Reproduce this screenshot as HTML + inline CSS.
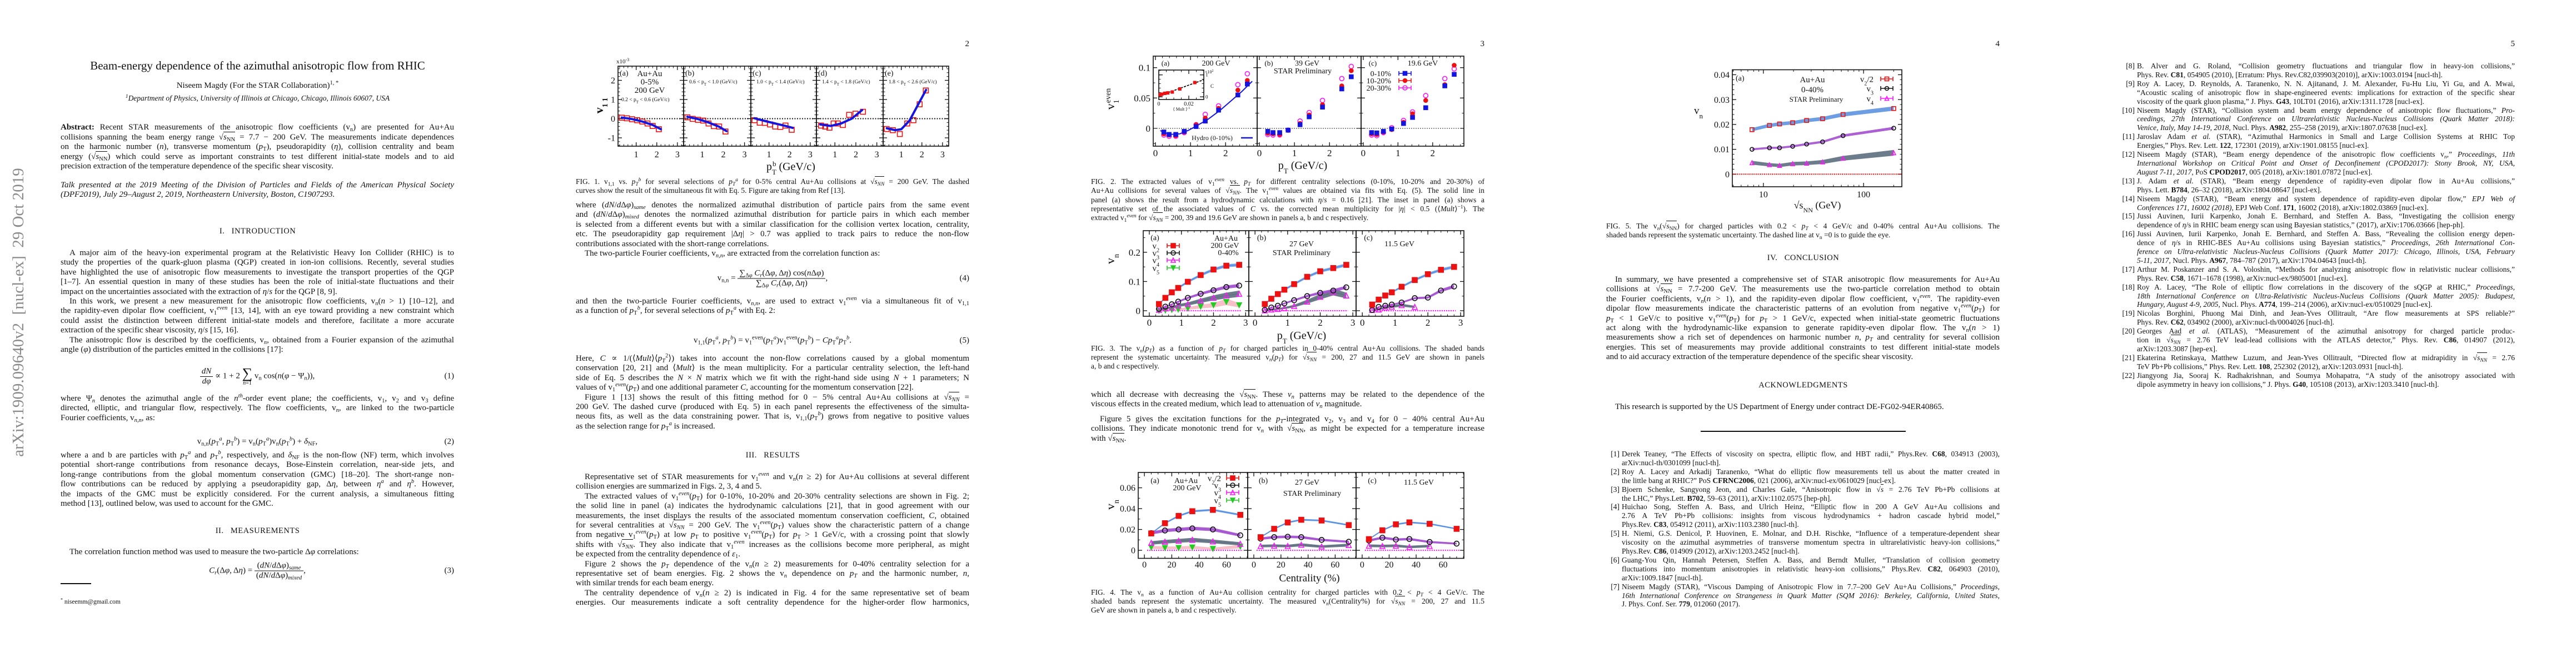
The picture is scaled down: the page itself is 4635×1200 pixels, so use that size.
<!DOCTYPE html>
<html><head><meta charset="utf-8">
<style>
html,body{margin:0;padding:0;background:#fff}
body{width:4635px;height:1200px;overflow:hidden;position:relative;font-family:"Liberation Serif","DejaVu Serif",serif;color:#111}
.page{position:absolute;top:0;width:927px;height:1200px;overflow:hidden}
.page svg{position:absolute;left:0;top:0}
.blk{position:absolute;left:109px;width:708px;font-size:15px}
.cap{font-size:13.5px}
.ref{left:137px;width:680px;font-size:13.5px}
.l{white-space:nowrap;position:relative}
.i{padding-left:16px}
.rn{position:absolute;left:-32px;width:28px;text-align:right}
sub,sup{font-size:0.7em;line-height:0}
sub{vertical-align:-0.3em}sup{vertical-align:0.55em}
.ov{border-top:1px solid #111;padding-top:1px}
.ctr{position:absolute;left:0;width:927px;text-align:center}
.pn{position:absolute;left:790px;width:27px;text-align:right;font-size:15px;top:71px}
.eq{position:absolute;left:109px;width:708px;text-align:center;font-size:15px;transform:translateY(-50%)}
.eqn{position:absolute;left:740px;width:77px;text-align:right;font-size:15px;transform:translateY(-50%)}
.frac{display:inline-block;vertical-align:middle;text-align:center}
.frac>span{display:block;padding:0 3px}
.frac>span:first-child{border-bottom:1px solid #111}
.sum{display:inline-block;vertical-align:middle;text-align:center;line-height:1}
.sum big{font-size:26px;display:block}
.sum small{font-size:10px;display:block}
.h{font-size:14.5px;letter-spacing:0.5px}
</style></head>
<body>

<div style="position:absolute;left:-237px;top:545px;width:540px;height:34px;transform:rotate(-90deg);font-size:29px;color:#8a8a8a;text-align:center;white-space:nowrap;line-height:34px">arXiv:1909.09640v2&nbsp; [nucl-ex]&nbsp; 29 Oct 2019</div>

<!-- ================= PAGE 1 ================= -->
<div class="page" style="left:0">
<div class="ctr" style="top:106px;font-size:21px">Beam-energy dependence of the azimuthal anisotropic flow from RHIC</div>
<div class="ctr" style="top:146px;font-size:15px">Niseem Magdy (For the STAR Collaboration)<sup>1, *</sup></div>
<div class="ctr" style="top:169px;font-size:13.5px;font-style:italic"><sup>1</sup>Department of Physics, University of Illinois at Chicago, Chicago, Illinois 60607, USA</div>

<div class="blk" style="top:221px;line-height:17.5px">
<div class="l"><b>Abstract:</b> Recent STAR measurements of the anisotropic flow coefficients (v<sub>n</sub>) are presented for Au+Au</div>
<div class="l">collisions spanning the beam energy range √<span class="ov"><i>s</i><sub>NN</sub></span> = 7.7 − 200 GeV. The measurements indicate dependences</div>
<div class="l">on the harmonic number (<i>n</i>), transverse momentum (<i>p</i><sub>T</sub>), pseudorapidity (<i>η</i>), collision centrality and beam</div>
<div class="l">energy (√<span class="ov"><i>s</i><sub>NN</sub></span>) which could serve as important constraints to test different initial-state models and to aid</div>
<div class="l last">precision extraction of the temperature dependence of the specific shear viscosity.</div>
</div>
<div class="blk" style="top:325px;line-height:17.4px;font-style:italic">
<div class="l">Talk presented at the 2019 Meeting of the Division of Particles and Fields of the American Physical Society</div>
<div class="l last">(DPF2019), July 29–August 2, 2019, Northeastern University, Boston, C1907293.</div>
</div>
<div class="ctr h" style="top:408px">I.&nbsp;&nbsp; INTRODUCTION</div>
<div class="blk" style="top:447px;line-height:17.4px">
<div class="l i">A major aim of the heavy-ion experimental program at the Relativistic Heavy Ion Collider (RHIC) is to</div>
<div class="l">study the properties of the quark-gluon plasma (QGP) created in ion-ion collisions. Recently, several studies</div>
<div class="l">have highlighted the use of anisotropic flow measurements to investigate the transport properties of the QGP</div>
<div class="l">[1–7]. An essential question in many of these studies has been the role of initial-state fluctuations and their</div>
<div class="l last">impact on the uncertainties associated with the extraction of <i>η</i>/<i>s</i> for the QGP [8, 9].</div>
<div class="l i">In this work, we present a new measurement for the anisotropic flow coefficients, v<sub><i>n</i></sub>(<i>n</i> &gt; 1) [10–12], and</div>
<div class="l">the rapidity-even dipolar flow coefficient, v<sub>1</sub><sup><i>even</i></sup> [13, 14], with an eye toward providing a new constraint which</div>
<div class="l">could assist the distinction between different initial-state models and therefore, facilitate a more accurate</div>
<div class="l last">extraction of the specific shear viscosity, <i>η</i>/<i>s</i> [15, 16].</div>
<div class="l i">The anisotropic flow is described by the coefficients, v<sub><i>n</i></sub>, obtained from a Fourier expansion of the azimuthal</div>
<div class="l last">angle (<i>φ</i>) distribution of the particles emitted in the collisions [17]:</div>
</div>
<div class="eq" style="top:677px"><span class="frac"><span><i>dN</i></span><span><i>dφ</i></span></span> ∝ 1 + 2 <span class="sum"><big>∑</big><small><i>n</i>=1</small></span> v<sub>n</sub> cos(<i>n</i>(<i>φ</i> − Ψ<sub><i>n</i></sub>)),</div>
<div class="eqn" style="top:677px">(1)</div>
<div class="blk" style="top:709px;line-height:17.4px">
<div class="l">where Ψ<sub><i>n</i></sub> denotes the azimuthal angle of the <i>n</i><sup><i>th</i></sup>-order event plane; the coefficients, v<sub>1</sub>, v<sub>2</sub> and v<sub>3</sub> define</div>
<div class="l">directed, elliptic, and triangular flow, respectively. The flow coefficients, v<sub><i>n</i></sub>, are linked to the two-particle</div>
<div class="l last">Fourier coefficients, v<sub><i>n,n</i></sub>, as:</div>
</div>
<div class="eq" style="top:795px">v<sub>n,n</sub>(<i>p</i><sub>T</sub><sup><i>a</i></sup>, <i>p</i><sub>T</sub><sup><i>b</i></sup>) = v<sub>n</sub>(<i>p</i><sub>T</sub><sup><i>a</i></sup>)v<sub>n</sub>(<i>p</i><sub>T</sub><sup><i>b</i></sup>) + <i>δ</i><sub>NF</sub>,</div>
<div class="eqn" style="top:795px">(2)</div>
<div class="blk" style="top:811px;line-height:17.4px">
<div class="l">where a and b are particles with <i>p</i><sub>T</sub><sup><i>a</i></sup> and <i>p</i><sub>T</sub><sup><i>b</i></sup>, respectively, and <i>δ</i><sub>NF</sub> is the non-flow (NF) term, which involves</div>
<div class="l">potential short-range contributions from resonance decays, Bose-Einstein correlation, near-side jets, and</div>
<div class="l">long-range contributions from the global momentum conservation (GMC) [18–20]. The short-range non-</div>
<div class="l">flow contributions can be reduced by applying a pseudorapidity gap, Δ<i>η</i>, between <i>η</i><sup><i>a</i></sup> and <i>η</i><sup><i>b</i></sup>. However,</div>
<div class="l">the impacts of the GMC must be explicitly considered. For the current analysis, a simultaneous fitting</div>
<div class="l last">method [13], outlined below, was used to account for the GMC.</div>
</div>
<div class="ctr h" style="top:947px">II.&nbsp;&nbsp; MEASUREMENTS</div>
<div class="blk" style="top:985px;line-height:17.4px">
<div class="l i last">The correlation function method was used to measure the two-particle Δ<i>φ</i> correlations:</div>
</div>
<div class="eq" style="top:1027px"><i>C<sub>r</sub></i>(Δ<i>φ</i>, Δ<i>η</i>) = <span class="frac"><span>(<i>dN</i>/<i>d</i>Δ<i>φ</i>)<sub><i>same</i></sub></span><span>(<i>dN</i>/<i>d</i>Δ<i>φ</i>)<sub><i>mixed</i></sub></span></span>,</div>
<div class="eqn" style="top:1027px">(3)</div>
<div style="position:absolute;left:109px;top:1049px;width:55px;height:1.5px;background:#111"></div>
<div style="position:absolute;left:109px;top:1077px;font-size:11.5px"><sup>*</sup> niseemm@gmail.com</div>
</div>

<!-- ================= PAGE 2 ================= -->
<div class="page" style="left:927px">
<svg id="svg2" width="927" height="1200"></svg>
<div class="pn">2</div>
<div class="blk cap" style="top:319px;line-height:16px">
<div class="l">FIG. 1. v<sub>1,1</sub> vs. <i>p</i><sub><i>T</i></sub><sup><i>b</i></sup> for several selections of <i>p</i><sub><i>T</i></sub><sup><i>a</i></sup> for 0-5% central Au+Au collisions at √<span class="ov"><i>s</i><sub><i>NN</i></sub></span> = 200 GeV. The dashed</div>
<div class="l last">curves show the result of the simultaneous fit with Eq. 5. Figure are taking from Ref [13].</div>
</div>
<div class="blk" style="top:361px;line-height:17.4px">
<div class="l">where (<i>dN</i>/<i>d</i>Δ<i>φ</i>)<sub><i>same</i></sub> denotes the normalized azimuthal distribution of particle pairs from the same event</div>
<div class="l">and (<i>dN</i>/<i>d</i>Δ<i>φ</i>)<sub><i>mixed</i></sub> denotes the normalized azimuthal distribution for particle pairs in which each member</div>
<div class="l">is selected from a different events but with a similar classification for the collision vertex location, centrality,</div>
<div class="l">etc. The pseudorapidity gap requirement |Δ<i>η</i>| &gt; 0.7 was applied to track pairs to reduce the non-flow</div>
<div class="l last">contributions associated with the short-range correlations.</div>
<div class="l i last">The two-particle Fourier coefficients, v<sub><i>n,n</i></sub>, are extracted from the correlation function as:</div>
</div>
<div class="eq" style="top:501px">v<sub>n,n</sub> = <span class="frac"><span>∑<sub>Δ<i>φ</i></sub> <i>C<sub>r</sub></i>(Δ<i>φ</i>, Δ<i>η</i>) cos(<i>n</i>Δ<i>φ</i>)</span><span>∑<sub>Δ<i>φ</i></sub> <i>C<sub>r</sub></i>(Δ<i>φ</i>, Δ<i>η</i>)</span></span>,</div>
<div class="eqn" style="top:501px">(4)</div>
<div class="blk" style="top:534px;line-height:17.4px">
<div class="l">and then the two-particle Fourier coefficients, v<sub><i>n,n</i></sub>, are used to extract v<sub>1</sub><sup><i>even</i></sup> via a simultaneous fit of v<sub>1,1</sub></div>
<div class="l last">as a function of <i>p</i><sub>T</sub><sup><i>b</i></sup>, for several selections of <i>p</i><sub>T</sub><sup><i>a</i></sup> with Eq. 2:</div>
</div>
<div class="eq" style="top:613px">v<sub>1,1</sub>(<i>p</i><sub>T</sub><sup><i>a</i></sup>, <i>p</i><sub>T</sub><sup><i>b</i></sup>) = v<sub>1</sub><sup>even</sup>(<i>p</i><sub>T</sub><sup><i>a</i></sup>)v<sub>1</sub><sup>even</sup>(<i>p</i><sub>T</sub><sup><i>b</i></sup>) − <i>Cp</i><sub>T</sub><sup><i>a</i></sup><i>p</i><sub>T</sub><sup><i>b</i></sup>.</div>
<div class="eqn" style="top:613px">(5)</div>
<div class="blk" style="top:637px;line-height:17.4px">
<div class="l">Here, <i>C</i> ∝ 1/(⟨<i>Mult</i>⟩⟨<i>p</i><sub><i>T</i></sub><sup>2</sup>⟩) takes into account the non-flow correlations caused by a global momentum</div>
<div class="l">conservation [20, 21] and ⟨<i>Mult</i>⟩ is the mean multiplicity. For a particular centrality selection, the left-hand</div>
<div class="l">side of Eq. 5 describes the <i>N</i> × <i>N</i> matrix which we fit with the right-hand side using <i>N</i> + 1 parameters; N</div>
<div class="l last">values of v<sub>1</sub><sup><i>even</i></sup>(<i>p</i><sub>T</sub>) and one additional parameter <i>C</i>, accounting for the momentum conservation [22].</div>
<div class="l i">Figure 1 [13] shows the result of this fitting method for 0 − 5% central Au+Au collisions at √<span class="ov"><i>s</i><sub><i>NN</i></sub></span> =</div>
<div class="l">200 GeV. The dashed curve (produced with Eq. 5) in each panel represents the effectiveness of the simulta-</div>
<div class="l">neous fits, as well as the data constraining power. That is, v<sub>1,1</sub>(<i>p</i><sub>T</sub><sup><i>b</i></sup>) grows from negative to positive values</div>
<div class="l last">as the selection range for <i>p</i><sub>T</sub><sup><i>a</i></sup> is increased.</div>
</div>
<div class="ctr h" style="top:811px">III.&nbsp;&nbsp; RESULTS</div>
<div class="blk" style="top:850px;line-height:17.4px">
<div class="l i">Representative set of STAR measurements for v<sub>1</sub><sup><i>even</i></sup> and v<sub><i>n</i></sub>(<i>n</i> ≥ 2) for Au+Au collisions at several different</div>
<div class="l last">collision energies are summarized in Figs. 2, 3, 4 and 5.</div>
<div class="l i">The extracted values of v<sub>1</sub><sup><i>even</i></sup>(<i>p</i><sub>T</sub>) for 0-10%, 10-20% and 20-30% centrality selections are shown in Fig. 2;</div>
<div class="l">the solid line in panel (a) indicates the hydrodynamic calculations [21], that in good agreement with our</div>
<div class="l">measurements, the inset displays the results of the associated momentum conservation coefficient, <i>C</i>, obtained</div>
<div class="l">for several centralities at √<span class="ov"><i>s</i><sub><i>NN</i></sub></span> = 200 GeV. The v<sub>1</sub><sup><i>even</i></sup>(<i>p</i><sub>T</sub>) values show the characteristic pattern of a change</div>
<div class="l">from negative v<sub>1</sub><sup><i>even</i></sup>(<i>p</i><sub>T</sub>) at low <i>p</i><sub>T</sub> to positive v<sub>1</sub><sup><i>even</i></sup>(<i>p</i><sub>T</sub>) for <i>p</i><sub>T</sub> &gt; 1 GeV/c, with a crossing point that slowly</div>
<div class="l">shifts with √<span class="ov"><i>s</i><sub><i>NN</i></sub></span>. They also indicate that v<sub>1</sub><sup><i>even</i></sup> increases as the collisions become more peripheral, as might</div>
<div class="l last">be expected from the centrality dependence of <i>ε</i><sub>1</sub>.</div>
<div class="l i">Figure 2 shows the <i>p<sub>T</sub></i> dependence of the v<sub><i>n</i></sub>(<i>n</i> ≥ 2) measurements for 0-40% centrality selection for a</div>
<div class="l">representative set of beam energies. Fig. 2 shows the v<sub><i>n</i></sub> dependence on <i>p<sub>T</sub></i> and the harmonic number, <i>n</i>,</div>
<div class="l last">with similar trends for each beam energy.</div>
<div class="l i">The centrality dependence of v<sub><i>n</i></sub>(<i>n</i> ≥ 2) is indicated in Fig. 4 for the same representative set of beam</div>
<div class="l">energies. Our measurements indicate a soft centrality dependence for the higher-order flow harmonics,</div>
</div>
</div>

<!-- ================= PAGE 3 ================= -->
<div class="page" style="left:1854px">
<svg id="svg3" width="927" height="1200"></svg>
<div class="pn">3</div>
<div class="blk cap" style="top:319px;line-height:16.3px">
<div class="l">FIG. 2. The extracted values of v<sub>1</sub><sup><i>even</i></sup> vs. <i>p<sub>T</sub></i> for different centrality selections (0-10%, 10-20% and 20-30%) of</div>
<div class="l">Au+Au collisions for several values of √<span class="ov"><i>s</i><sub><i>NN</i></sub></span>. The v<sub>1</sub><sup><i>even</i></sup> values are obtained via fits with Eq. (5). The solid line in</div>
<div class="l">panel (a) shows the result from a hydrodynamic calculations with <i>η</i>/<i>s</i> = 0.16 [21]. The inset in panel (a) shows a</div>
<div class="l">representative set of the associated values of <i>C</i> vs. the corrected mean multiplicity for |<i>η</i>| &lt; 0.5 (⟨<i>Mult</i>⟩<sup>−1</sup>). The</div>
<div class="l last">extracted v<sub>1</sub><sup><i>even</i></sup> for √<span class="ov"><i>s</i><sub><i>NN</i></sub></span> = 200, 39 and 19.6 GeV are shown in panels a, b and c respectively.</div>
</div>
<div class="blk cap" style="top:619px;line-height:16px">
<div class="l">FIG. 3. The v<sub><i>n</i></sub>(<i>p<sub>T</sub></i>) as a function of <i>p<sub>T</sub></i> for charged particles in 0-40% central Au+Au collisions. The shaded bands</div>
<div class="l">represent the systematic uncertainty. The measured v<sub><i>n</i></sub>(<i>p<sub>T</sub></i>) for √<span class="ov"><i>s</i><sub><i>NN</i></sub></span> = 200, 27 and 11.5 GeV are shown in panels</div>
<div class="l last">a, b and c respectively.</div>
</div>
<div class="blk" style="top:702px;line-height:17.4px">
<div class="l">which all decrease with decreasing the √<span class="ov"><i>s</i><sub>NN</sub></span>. These <i>v<sub>n</sub></i> patterns may be related to the dependence of the</div>
<div class="l last">viscous effects in the created medium, which lead to attenuation of <i>v<sub>n</sub></i> magnitude.</div>
</div>
<div class="blk" style="top:746px;line-height:17.4px">
<div class="l i">Figure 5 gives the excitation functions for the <i>p<sub>T</sub></i>-integrated v<sub>2</sub>, v<sub>3</sub> and v<sub>4</sub> for 0 − 40% central Au+Au</div>
<div class="l">collisions. They indicate monotonic trend for v<sub><i>n</i></sub> with √<span class="ov"><i>s</i><sub>NN</sub></span>, as might be expected for a temperature increase</div>
<div class="l last">with √<span class="ov"><i>s</i><sub>NN</sub></span>.</div>
</div>
<div class="blk cap" style="top:1058px;line-height:16px">
<div class="l">FIG. 4. The v<sub><i>n</i></sub> as a function of Au+Au collision centrality for charged particles with 0.2 &lt; <i>p<sub>T</sub></i> &lt; 4 GeV/c. The</div>
<div class="l">shaded bands represent the systematic uncertainty. The measured v<sub><i>n</i></sub>(Centrality%) for √<span class="ov"><i>s</i><sub><i>NN</i></sub></span> = 200, 27 and 11.5</div>
<div class="l last">GeV are shown in panels a, b and c respectively.</div>
</div>
</div>

<!-- ================= PAGE 4 ================= -->
<div class="page" style="left:2781px">
<svg id="svg4" width="927" height="1200"></svg>
<div class="pn">4</div>
<div class="blk cap" style="top:399px;line-height:16px">
<div class="l">FIG. 5. The v<sub><i>n</i></sub>(√<span class="ov"><i>s</i><sub>NN</sub></span>) for charged particles with 0.2 &lt; <i>p<sub>T</sub></i> &lt; 4 GeV/c and 0-40% central Au+Au collisions. The</div>
<div class="l last">shaded bands represent the systematic uncertainty. The dashed line at v<sub>n</sub> =0 is to guide the eye.</div>
</div>
<div class="ctr h" style="top:456px">IV.&nbsp;&nbsp; CONCLUSION</div>
<div class="blk" style="top:495px;line-height:17.4px">
<div class="l i">In summary, we have presented a comprehensive set of STAR anisotropic flow measurements for Au+Au</div>
<div class="l">collisions at √<span class="ov"><i>s</i><sub>NN</sub></span> = 7.7-200 GeV. The measurements use the two-particle correlation method to obtain</div>
<div class="l">the Fourier coefficients, v<sub><i>n</i></sub>(<i>n</i> &gt; 1), and the rapidity-even dipolar flow coefficient, v<sub>1</sub><sup><i>even</i></sup>. The rapidity-even</div>
<div class="l">dipolar flow measurements indicate the characteristic patterns of an evolution from negative v<sub>1</sub><sup><i>even</i></sup>(<i>p</i><sub>T</sub>) for</div>
<div class="l"><i>p</i><sub>T</sub> &lt; 1 GeV/c to positive v<sub>1</sub><sup><i>even</i></sup>(<i>p</i><sub>T</sub>) for <i>p</i><sub>T</sub> &gt; 1 GeV/c, expected when initial-state geometric fluctuations</div>
<div class="l">act along with the hydrodynamic-like expansion to generate rapidity-even dipolar flow. The v<sub><i>n</i></sub>(<i>n</i> &gt; 1)</div>
<div class="l">measurements show a rich set of dependences on harmonic number <i>n</i>, <i>p<sub>T</sub></i> and centrality for several collision</div>
<div class="l">energies. This set of measurements may provide additional constraints to test different initial-state models</div>
<div class="l last">and to aid accuracy extraction of the temperature dependence of the specific shear viscosity.</div>
</div>
<div class="ctr h" style="top:685px">ACKNOWLEDGMENTS</div>
<div class="blk" style="top:724px;line-height:17.4px">
<div class="l i last">This research is supported by the US Department of Energy under contract DE-FG02-94ER40865.</div>
</div>
<div style="position:absolute;left:279px;top:775px;width:369px;height:2px;background:#111"></div>
<div class="blk ref" style="top:809px;line-height:15.9px">
<div class="l"><span class="rn">[1]</span>Derek Teaney, “The Effects of viscosity on spectra, elliptic flow, and HBT radii,” Phys.Rev. <b>C68</b>, 034913 (2003),</div>
<div class="l last">arXiv:nucl-th/0301099 [nucl-th].</div>
<div class="l"><span class="rn">[2]</span>Roy A. Lacey and Arkadij Taranenko, “What do elliptic flow measurements tell us about the matter created in</div>
<div class="l last">the little bang at RHIC?” PoS <b>CFRNC2006</b>, 021 (2006), arXiv:nucl-ex/0610029 [nucl-ex].</div>
<div class="l"><span class="rn">[3]</span>Bjoern Schenke, Sangyong Jeon, and Charles Gale, “Anisotropic flow in √<span class="ov"><i>s</i></span> = 2.76 TeV Pb+Pb collisions at</div>
<div class="l last">the LHC,” Phys.Lett. <b>B702</b>, 59–63 (2011), arXiv:1102.0575 [hep-ph].</div>
<div class="l"><span class="rn">[4]</span>Huichao Song, Steffen A. Bass, and Ulrich Heinz, “Elliptic flow in 200 A GeV Au+Au collisions and</div>
<div class="l">2.76 A TeV Pb+Pb collisions: insights from viscous hydrodynamics + hadron cascade hybrid model,”</div>
<div class="l last">Phys.Rev. <b>C83</b>, 054912 (2011), arXiv:1103.2380 [nucl-th].</div>
<div class="l"><span class="rn">[5]</span>H. Niemi, G.S. Denicol, P. Huovinen, E. Molnar, and D.H. Rischke, “Influence of a temperature-dependent shear</div>
<div class="l">viscosity on the azimuthal asymmetries of transverse momentum spectra in ultrarelativistic heavy-ion collisions,”</div>
<div class="l last">Phys.Rev. <b>C86</b>, 014909 (2012), arXiv:1203.2452 [nucl-th].</div>
<div class="l"><span class="rn">[6]</span>Guang-You Qin, Hannah Petersen, Steffen A. Bass, and Berndt Muller, “Translation of collision geometry</div>
<div class="l">fluctuations into momentum anisotropies in relativistic heavy-ion collisions,” Phys.Rev. <b>C82</b>, 064903 (2010),</div>
<div class="l last">arXiv:1009.1847 [nucl-th].</div>
<div class="l"><span class="rn">[7]</span>Niseem Magdy (STAR), “Viscous Damping of Anisotropic Flow in 7.7–200 GeV Au+Au Collisions,” <i>Proceedings,</i></div>
<div class="l"><i>16th International Conference on Strangeness in Quark Matter (SQM 2016): Berkeley, California, United States,</i></div>
<div class="l last">J. Phys. Conf. Ser. <b>779</b>, 012060 (2017).</div>
</div>
</div>

<!-- ================= PAGE 5 ================= -->
<div class="page" style="left:3708px">
<div class="pn">5</div>
<div class="blk ref" style="top:111px;line-height:15.9px">
<div class="l"><span class="rn">[8]</span>B. Alver and G. Roland, “Collision geometry fluctuations and triangular flow in heavy-ion collisions,”</div>
<div class="l last">Phys. Rev. <b>C81</b>, 054905 (2010), [Erratum: Phys. Rev.C82,039903(2010)], arXiv:1003.0194 [nucl-th].</div>
<div class="l"><span class="rn">[9]</span>Roy A. Lacey, D. Reynolds, A. Taranenko, N. N. Ajitanand, J. M. Alexander, Fu-Hu Liu, Yi Gu, and A. Mwai,</div>
<div class="l">“Acoustic scaling of anisotropic flow in shape-engineered events: implications for extraction of the specific shear</div>
<div class="l last">viscosity of the quark gluon plasma,” J. Phys. <b>G43</b>, 10LT01 (2016), arXiv:1311.1728 [nucl-ex].</div>
<div class="l"><span class="rn">[10]</span>Niseem Magdy (STAR), “Collision system and beam energy dependence of anisotropic flow fluctuations,” <i>Pro-</i></div>
<div class="l"><i>ceedings, 27th International Conference on Ultrarelativistic Nucleus-Nucleus Collisions (Quark Matter 2018):</i></div>
<div class="l last"><i>Venice, Italy, May 14-19, 2018,</i> Nucl. Phys. <b>A982</b>, 255–258 (2019), arXiv:1807.07638 [nucl-ex].</div>
<div class="l"><span class="rn">[11]</span>Jaroslav Adam <i>et al.</i> (STAR), “Azimuthal Harmonics in Small and Large Collision Systems at RHIC Top</div>
<div class="l last">Energies,” Phys. Rev. Lett. <b>122</b>, 172301 (2019), arXiv:1901.08155 [nucl-ex].</div>
<div class="l"><span class="rn">[12]</span>Niseem Magdy (STAR), “Beam energy dependence of the anisotropic flow coefficients v<sub><i>n</i></sub>,” <i>Proceedings, 11th</i></div>
<div class="l"><i>International Workshop on Critical Point and Onset of Deconfinement (CPOD2017): Stony Brook, NY, USA,</i></div>
<div class="l last"><i>August 7-11, 2017,</i> PoS <b>CPOD2017</b>, 005 (2018), arXiv:1801.07872 [nucl-ex].</div>
<div class="l"><span class="rn">[13]</span>J. Adam <i>et al.</i> (STAR), “Beam energy dependence of rapidity-even dipolar flow in Au+Au collisions,”</div>
<div class="l last">Phys. Lett. <b>B784</b>, 26–32 (2018), arXiv:1804.08647 [nucl-ex].</div>
<div class="l"><span class="rn">[14]</span>Niseem Magdy (STAR), “Beam energy and system dependence of rapidity-even dipolar flow,” <i>EPJ Web of</i></div>
<div class="l last"><i>Conferences 171, 16002 (2018),</i> EPJ Web Conf. <b>171</b>, 16002 (2018), arXiv:1802.03869 [nucl-ex].</div>
<div class="l"><span class="rn">[15]</span>Jussi Auvinen, Iurii Karpenko, Jonah E. Bernhard, and Steffen A. Bass, “Investigating the collision energy</div>
<div class="l last">dependence of <i>η</i>/s in RHIC beam energy scan using Bayesian statistics,” (2017), arXiv:1706.03666 [hep-ph].</div>
<div class="l"><span class="rn">[16]</span>Jussi Auvinen, Iurii Karpenko, Jonah E. Bernhard, and Steffen A. Bass, “Revealing the collision energy depen-</div>
<div class="l">dence of <i>η</i>/s in RHIC-BES Au+Au collisions using Bayesian statistics,” <i>Proceedings, 26th International Con-</i></div>
<div class="l"><i>ference on Ultra-relativistic Nucleus-Nucleus Collisions (Quark Matter 2017): Chicago, Illinois, USA, February</i></div>
<div class="l last"><i>5-11, 2017,</i> Nucl. Phys. <b>A967</b>, 784–787 (2017), arXiv:1704.04643 [nucl-th].</div>
<div class="l"><span class="rn">[17]</span>Arthur M. Poskanzer and S. A. Voloshin, “Methods for analyzing anisotropic flow in relativistic nuclear collisions,”</div>
<div class="l last">Phys. Rev. <b>C58</b>, 1671–1678 (1998), arXiv:nucl-ex/9805001 [nucl-ex].</div>
<div class="l"><span class="rn">[18]</span>Roy A. Lacey, “The Role of elliptic flow correlations in the discovery of the sQGP at RHIC,” <i>Proceedings,</i></div>
<div class="l"><i>18th International Conference on Ultra-Relativistic Nucleus-Nucleus Collisions (Quark Matter 2005): Budapest,</i></div>
<div class="l last"><i>Hungary, August 4-9, 2005,</i> Nucl. Phys. <b>A774</b>, 199–214 (2006), arXiv:nucl-ex/0510029 [nucl-ex].</div>
<div class="l"><span class="rn">[19]</span>Nicolas Borghini, Phuong Mai Dinh, and Jean-Yves Ollitrault, “Are flow measurements at SPS reliable?”</div>
<div class="l last">Phys. Rev. <b>C62</b>, 034902 (2000), arXiv:nucl-th/0004026 [nucl-th].</div>
<div class="l"><span class="rn">[20]</span>Georges Aad <i>et al.</i> (ATLAS), “Measurement of the azimuthal anisotropy for charged particle produc-</div>
<div class="l">tion in √<span class="ov"><i>s</i><sub><i>NN</i></sub></span> = 2.76 TeV lead-lead collisions with the ATLAS detector,” Phys. Rev. <b>C86</b>, 014907 (2012),</div>
<div class="l last">arXiv:1203.3087 [hep-ex].</div>
<div class="l"><span class="rn">[21]</span>Ekaterina Retinskaya, Matthew Luzum, and Jean-Yves Ollitrault, “Directed flow at midrapidity in √<span class="ov"><i>s</i><sub><i>NN</i></sub></span> = 2.76</div>
<div class="l last">TeV Pb+Pb collisions,” Phys. Rev. Lett. <b>108</b>, 252302 (2012), arXiv:1203.0931 [nucl-th].</div>
<div class="l"><span class="rn">[22]</span>Jiangyong Jia, Sooraj K. Radhakrishnan, and Soumya Mohapatra, “A study of the anisotropy associated with</div>
<div class="l last">dipole asymmetry in heavy ion collisions,” J. Phys. <b>G40</b>, 105108 (2013), arXiv:1203.3410 [nucl-th].</div>
</div>
</div>

<script>
// ======================= CHART DATA =======================
// Fig. 1: v11 (x1e-3) vs pT^b, five pT^a selections
const fig1PtABC=[0.3,0.55,0.8,1.05,1.3,1.55,1.8,2.1];
const fig1PtD=[0.34,0.54,0.74,0.94,1.14,1.38,1.68,1.98,2.34];
const fig1PtE=[0.29,0.59,0.93,1.29,1.59,1.89,2.19];
const fig1VA=[0.05,0.02,-0.03,-0.08,-0.15,-0.25,-0.38,-0.55];
const fig1VB=[0.07,-0.01,-0.06,-0.10,-0.25,-0.39,-0.41,-0.67];
const fig1VC=[-0.08,-0.21,-0.22,-0.30,-0.41,-0.43,-0.36,-0.58];
const fig1VD=[-0.36,-0.41,-0.47,-0.25,-0.25,-0.33,0.20,0.26,0.36];
const fig1VE=[-0.54,-0.60,-0.80,-0.25,-0.08,0.75,1.47];
const fig1FitPtA=[0.3,0.8,1.3,1.8,2.2];
const fig1FitVA=[0.06,-0.02,-0.15,-0.33,-0.55];
const fig1FitPtB=[0.3,0.8,1.3,1.8,2.15];
const fig1FitVB=[0.10,-0.02,-0.20,-0.42,-0.65];
const fig1FitPtC=[0.3,0.8,1.3,1.8,2.15];
const fig1FitVC=[0.02,-0.12,-0.25,-0.38,-0.48];
const fig1FitPtD=[0.3,0.8,1.3,1.8,2.3];
const fig1FitVD=[-0.30,-0.38,-0.25,0.0,0.45];
const fig1FitPtE=[0.3,0.7,1.0,1.4,1.8,2.2];
const fig1FitVE=[-0.50,-0.60,-0.55,-0.10,0.70,1.50];
const fig1YTicks=[-1,0,1,2];
const fig1YLabels=['-1','0','1','2'];
const fig1XTicks=[1,2,3];
const fig1XLabels=['1','2','3'];
const fig1Ranges=['0.2 < p','0.6 < p','1.0 < p','1.4 < p','1.8 < p'];
const fig1RangeEnds=['< 0.6 (GeV/c)','< 1.0 (GeV/c)','< 1.4 (GeV/c)','< 1.8 (GeV/c)','< 2.6 (GeV/c)'];

// Fig. 2: v1even vs pT
const fig2Pt=[0.24,0.39,0.58,0.82,1.16,1.42,1.8,2.35,2.62];
const fig2A010=[-0.006,-0.010,-0.010,-0.005,0.003,0.012,0.030,0.055,0.073];
const fig2A1020=[-0.009,-0.011,-0.012,-0.006,0.006,0.017,0.033,0.063,0.079];
const fig2A2030=[-0.011,-0.013,-0.013,-0.007,0.006,0.023,0.037,0.072,0.090];
const fig2B010=[-0.005,-0.007,-0.007,-0.003,0.006,0.019,0.035,0.065,0.085];
const fig2B1020=[-0.008,-0.009,-0.010,-0.003,0.008,0.022,0.039,0.070,0.095];
const fig2B2030=[-0.010,-0.011,-0.011,-0.003,0.012,0.026,0.046,0.082,0.102];
const fig2C010=[-0.007,-0.0075,-0.005,-0.001,0.008,0.018,0.034,0.070,0.089];
const fig2C1020=[-0.009,-0.010,-0.006,-0.002,0.010,0.024,0.046,0.072,0.104];
const fig2C2030=[-0.011,-0.012,-0.007,0.001,0.013,0.027,0.054,0.082,0.098];
const fig2HydroPt=[0.15,0.4,0.7,0.95,1.2,1.5,1.85,2.15,2.45,2.75];
const fig2HydroV=[-0.004,-0.010,-0.009,-0.003,0.005,0.015,0.030,0.045,0.060,0.077];
const fig2InsetX=[0.001,0.002,0.004,0.006,0.009,0.014,0.024];
const fig2InsetC=[0.10,0.12,0.16,0.18,0.22,0.36,0.65];
const fig2YTicks=[0,0.05,0.1];
const fig2YLabels=['0','0.05','0.1'];
const fig2XTicks=[0,1,2];
const fig2XLabels=['0','1','2'];
const fig2Energies=['200 GeV','39 GeV','19.6 GeV'];
const fig2Legend=['0-10%','10-20%','20-30%'];

// Fig. 3: vn vs pT (0-40%)
const fig3Pt=[0.3,0.5,0.7,0.9,1.2,1.6,2.0,2.4,2.8];
const fig3AV2=[0.023,0.044,0.063,0.078,0.099,0.122,0.141,0.154,0.157];
const fig3AV3=[0.006,0.014,0.022,0.031,0.044,0.058,0.070,0.081,0.086];
const fig3AV4=[0.003,0.008,0.011,0.018,0.023,0.034,0.044,0.052,0.058];
const fig3AV5=[0.0,0.001,0.003,0.004,0.008,0.014,0.019,0.030,0.019];
const fig3BV2=[0.023,0.041,0.057,0.072,0.091,0.116,0.135,0.146,0.157];
const fig3BV3=[0.003,0.011,0.017,0.025,0.036,0.050,0.061,0.069,0.080];
const fig3BV4=[0.001,0.004,0.006,0.009,0.016,0.031,0.048,0.064,0.052];
const fig3CV2=[0.021,0.038,0.052,0.063,0.082,0.105,0.125,0.140,0.150];
const fig3CV3=[0.0025,0.013,0.017,0.021,0.028,0.043,0.045,0.069,0.083];
const fig3CV4=[0.0025,0.004,0.011,0.014,0.019,0.013];
const fig3YTicks=[0,0.1,0.2];
const fig3YLabels=['0','0.1','0.2'];
const fig3XTicks=[0,1,2,3];
const fig3XLabels=['0','1','2','3'];

// Fig. 4: vn vs centrality
const fig4Cent=[5,15,25,35,50,70];
const fig4AV2=[0.0162,0.026,0.033,0.0375,0.0388,0.034];
const fig4AV3=[0.0165,0.019,0.020,0.021,0.020,0.0144];
const fig4AV4=[0.0071,0.0082,0.0091,0.010,0.0085,0.0062];
const fig4AV5=[0.0028,0.0023,0.0023,0.0028,0.0014,0.0036];
const fig4BV2=[0.0126,0.0206,0.0267,0.0293,0.0286,0.0242];
const fig4BV3=[0.0112,0.0126,0.013,0.0126,0.010,0.0082];
const fig4BV4=[0.0041,0.0044,0.0041,0.0053,0.0036,0.005];
const fig4CV2=[0.0107,0.0192,0.0249,0.0268,0.0254,0.0206];
const fig4CV3=[0.0094,0.0121,0.0103,0.0108,0.008,0.0064];
const fig4CV4=[0.0044,0.0041,0.0044,0.0032,0.0041];
const fig4YTicks=[0,0.02,0.04,0.06];
const fig4YLabels=['0','0.02','0.04','0.06'];
const fig4XTicks=[0,20,40,60];
const fig4XLabels=['0','20','40','60'];

// Fig. 5: vn vs sqrt(sNN)
const fig5Energy=[7.7,11.5,14.5,19.6,27,39,62.4,200];
const fig5V2half=[0.0179,0.0196,0.0202,0.0207,0.0216,0.0223,0.0240,0.0264];
const fig5V3=[0.0100,0.0106,0.0106,0.0112,0.0121,0.0130,0.0155,0.0185];
const fig5V4=[0.0046,0.0038,0.0035,0.0042,0.0044,0.0049,0.0064,0.0086];
const fig5YTicks=[0,0.01,0.02,0.03,0.04];
const fig5YLabels=['0','0.01','0.02','0.03','0.04'];
const fig5XTicks=[10,100];
const fig5XLabels=['10','100'];

// ======================= HELPERS =======================
const NS='http://www.w3.org/2000/svg';
function E(tag,parent){const e=document.createElementNS(NS,tag);parent.appendChild(e);return e;}
function A(e,o){for(const k in o)e.setAttribute(k,o[k]);return e;}
function lin(d0,d1,r0,r1){return v=>r0+(v-d0)/(d1-d0)*(r1-r0);}
function logs(d0,d1,r0,r1){return v=>r0+(Math.log10(v)-Math.log10(d0))/(Math.log10(d1)-Math.log10(d0))*(r1-r0);}
const FONT='"Liberation Serif", serif';

function T(parent,x,y,html,size,anchor,name){
  const t=E('text',parent);
  A(t,{x:x,y:y,'font-size':size,'font-family':FONT,'text-anchor':anchor||'start',fill:'#111'});
  t.innerHTML=html;
  
  
  return t;
}
function L(parent,x1,y1,x2,y2,stroke,w,dash){
  const l=E('line',parent);
  A(l,{x1:x1,y1:y1,x2:x2,y2:y2,stroke:stroke,'stroke-width':w});
  if(dash)l.setAttribute('stroke-dasharray',dash);
  return l;
}
function panel(svg,o){
  const g=E('g',svg);
  
  
  const sx=o.log?logs(o.xd[0],o.xd[1],o.x0,o.x1):lin(o.xd[0],o.xd[1],o.x0,o.x1);
  const sy=lin(o.yd[0],o.yd[1],o.y1,o.y0);
  const fr=E('rect',g);
  A(fr,{x:o.x0,y:o.y0,width:o.x1-o.x0,height:o.y1-o.y0,fill:'none',stroke:'#111','stroke-width':1.6});
  
  
  const tk=E('g',g);
  
  
  const inX=v=>{const p=sx(v);return p>o.x0+0.5&&p<o.x1-0.5;};
  const inY=v=>{const p=sy(v);return p>o.y0+0.5&&p<o.y1-0.5;};
  o.xMinor.forEach(v=>{if(!inX(v))return;const p=sx(v);L(tk,p,o.y1,p,o.y1-3.5,'#111',1);L(tk,p,o.y0,p,o.y0+3.5,'#111',1);});
  o.xMajor.forEach(v=>{if(!inX(v))return;const p=sx(v);L(tk,p,o.y1,p,o.y1-7,'#111',1.3);L(tk,p,o.y0,p,o.y0+7,'#111',1.3);});
  o.yMinor.forEach(v=>{if(!inY(v))return;const p=sy(v);L(tk,o.x0,p,o.x0+3.5,p,'#111',1);L(tk,o.x1,p,o.x1-3.5,p,'#111',1);});
  o.yMajor.forEach(v=>{if(!inY(v))return;const p=sy(v);L(tk,o.x0,p,o.x0+7,p,'#111',1.3);L(tk,o.x1,p,o.x1-7,p,'#111',1.3);});
  if(o.xLab){o.xMajor.forEach((v,i)=>{T(g,sx(v),o.xLabY,o.xLab[i],o.fs,'middle','x-tick-label');});}
  if(o.yLab){o.yMajor.forEach((v,i)=>{T(g,o.x0-5,sy(v)+o.fs*0.35,o.yLab[i],o.fs,'end','y-tick-label');});}
  return {g:g,sx:sx,sy:sy};
}
function range(a,b,s){const r=[];for(let v=a;v<=b+1e-9;v+=s)r.push(+v.toFixed(6));return r;}
function marker(g,type,x,y,c,s){
  let m;
  if(type==='sqF'||type==='sqO'){m=E('rect',g);A(m,{x:x-s/2,y:y-s/2,width:s,height:s,fill:type==='sqF'?c:'none',stroke:c,'stroke-width':1.6});}
  else if(type==='ciF'||type==='ciO'){m=E('circle',g);A(m,{cx:x,cy:y,r:s/2,fill:type==='ciF'?c:'none',stroke:c,'stroke-width':1.6});}
  else if(type==='trO'){m=E('polygon',g);A(m,{points:(x)+','+(y-s/2)+' '+(x-s/2)+','+(y+s/2)+' '+(x+s/2)+','+(y+s/2),fill:'none',stroke:c,'stroke-width':1.6});}
  else {m=E('polygon',g);A(m,{points:(x-s/2)+','+(y-s/2)+' '+(x+s/2)+','+(y-s/2)+' '+(x)+','+(y+s/2),fill:c,stroke:c,'stroke-width':1.4});}
  
  
  return m;
}
function series(P,xs,ys,o){
  const g=E('g',P.g);
  
  
  if(o.band){
    const up=xs.map((x,i)=>P.sx(x)+','+P.sy(ys[i]*(1+o.band)+o.bandAbs));
    const dn=xs.map((x,i)=>P.sx(x)+','+P.sy(ys[i]*(1-o.band)-o.bandAbs)).reverse();
    const b=E('polygon',g);
    A(b,{points:up.concat(dn).join(' '),fill:o.bandColor,stroke:'none',opacity:0.9});
    
    
  }
  if(o.line){
    const pl=E('polyline',g);
    A(pl,{points:xs.map((x,i)=>P.sx(x)+','+P.sy(ys[i])).join(' '),fill:'none',stroke:o.line,'stroke-width':o.lw||1.2});
    
    
  }
  if(o.type){xs.forEach((x,i)=>{marker(g,o.type,P.sx(x),P.sy(ys[i]),o.color,o.size);});}
  return g;
}
function curve(P,xs,ys,color,w,name){
  const pl=E('polyline',P.g);
  A(pl,{points:xs.map((x,i)=>P.sx(x)+','+P.sy(ys[i])).join(' '),fill:'none',stroke:color,'stroke-width':w,'stroke-linejoin':'round','stroke-linecap':'round'});
  
  
  return pl;
}
function zeroLine(P,x0,x1,color,dash,w){
  const l=L(P.g,x0,P.sy(0),x1,P.sy(0),color,w,dash);
  
  
}
function legendItem(g,xl,xm,y,label,type,color,size,fs){
  T(g,xl,y+fs*0.35,label,fs,'end','legend-label');
  const bar=L(g,xm-11,y,xm+11,y,color,1.6);
  
  
  L(g,xm-11,y-4,xm-11,y+4,color,1.6);L(g,xm+11,y-4,xm+11,y+4,color,1.6);
  marker(g,type,xm,y,color,size);
}
const RED='#ee1111',BLUE='#1515e0',MAG='#ff14ff',GRN='#22cc22',BLK='#111';

// ======================= FIGURE 1 =======================
(function(){
  const svg=document.getElementById('svg2');
  const edges=[185,303,424,542,662,780];
  const pts=[fig1PtABC,fig1PtABC,fig1PtABC,fig1PtD,fig1PtE];
  const vals=[fig1VA,fig1VB,fig1VC,fig1VD,fig1VE];
  const fitX=[fig1FitPtA,fig1FitPtB,fig1FitPtC,fig1FitPtD,fig1FitPtE];
  const fitY=[fig1FitVA,fig1FitVB,fig1FitVC,fig1FitVD,fig1FitVE];
  const letters=['(a)','(b)','(c)','(d)','(e)'];
  for(let k=0;k<5;k++){
    const P=panel(svg,{name:'fig1-panel-'+'abcde'[k],x0:edges[k],x1:edges[k+1],y0:119,y1:263,xd:[0.12,3.3],yd:[-1.435,2.74],
      xMajor:fig1XTicks,xMinor:range(0.2,3.2,0.2),yMajor:fig1YTicks,yMinor:range(-1.4,2.6,0.2),
      xLab:fig1XLabels,xLabY:283,yLab:k===0?fig1YLabels:null,fs:16});
    zeroLine(P,edges[k]+2,edges[k+1]-2,BLK,'2,2.5',2);
    series(P,pts[k],vals[k],{name:'fig1-data',type:'sqO',color:RED,size:9});
    curve(P,fitX[k],fitY[k],BLUE,4,'fig1-fit-curve');
    T(P.g,edges[k]+3,136,letters[k],14,'start','panel-label');
    if(k>0){T(P.g,edges[k]+10,150,fig1Ranges[k]+'<tspan baseline-shift="sub" font-size="7">T</tspan> '+fig1RangeEnds[k],9.5,'start','pt-a-range');}
  }
  T(svg,242,137,'Au+Au',15,'middle','fig1-system');
  T(svg,242,152,'0-5%',15,'middle','fig1-centrality');
  T(svg,242,167,'200 GeV',15,'middle','fig1-energy');
  T(svg,191,182,fig1Ranges[0]+'<tspan baseline-shift="sub" font-size="7">T</tspan> '+fig1RangeEnds[0],9.5,'start','pt-a-range');
  T(svg,182,114,'x10<tspan baseline-shift="super" font-size="8">-3</tspan>',11,'start','fig1-scale-factor');
  const yl=T(svg,0,0,'v<tspan baseline-shift="sub" font-size="14">1 1</tspan>',22,'middle','fig1-y-axis-title');
  yl.setAttribute('transform','translate(158,190) rotate(-90)');
  yl.setAttribute('font-weight','bold');
  T(svg,496,306,'p<tspan baseline-shift="sub" font-size="13">T</tspan><tspan baseline-shift="super" font-size="13" dx="-7">b</tspan> (GeV/c)',20,'middle','fig1-x-axis-title');
})();

// ======================= FIGURE 2 =======================
(function(){
  const svg=document.getElementById('svg3');
  const edges=[221,408,595,780];
  const s010=[fig2A010,fig2B010,fig2C010],s1020=[fig2A1020,fig2B1020,fig2C1020],s2030=[fig2A2030,fig2B2030,fig2C2030];
  const Ps=[];
  for(let k=0;k<3;k++){
    const P=panel(svg,{name:'fig2-panel-'+'abc'[k],x0:edges[k],x1:edges[k+1],y0:101,y1:263,xd:[-0.063,2.9],yd:[-0.0294,0.119],
      xMajor:fig2XTicks,xMinor:range(0,2.8,0.2),yMajor:fig2YTicks,yMinor:range(-0.025,0.115,0.025),
      xLab:fig2XLabels,xLabY:281,yLab:k===0?fig2YLabels:null,fs:17});
    Ps.push(P);
    zeroLine(P,edges[k]+2,edges[k+1]-2,'#777','2,2',1.6);
    if(k===0)curve(P,fig2HydroPt,fig2HydroV,BLUE,2,'hydro-curve');
    series(P,fig2Pt,s2030[k],{name:'series-20-30',type:'ciO',color:MAG,size:8});
    series(P,fig2Pt,s1020[k],{name:'series-10-20',type:'ciF',color:RED,size:7});
    series(P,fig2Pt,s010[k],{name:'series-0-10',type:'sqF',color:BLUE,size:7});
    T(P.g,[243,429,616][k],118,'('+'abc'[k]+')',13,'middle','panel-label');
    T(P.g,[334,498,706][k],118,fig2Energies[k],14,'middle','panel-energy');
  }
  T(Ps[1].g,490,132,'STAR Preliminary',14,'middle','preliminary-label');
  legendItem(Ps[2].g,649,674,132,fig2Legend[0],'sqF',BLUE,7,14);
  legendItem(Ps[2].g,649,674,145,fig2Legend[1],'ciF',RED,7,14);
  legendItem(Ps[2].g,649,674,158,fig2Legend[2],'ciO',MAG,8,14);
  T(Ps[0].g,327,252,'Hydro (0-10%)',12,'middle','hydro-legend-label');
  const hl=L(Ps[0].g,379,248,400,248,BLUE,2.5);
  
  
  // inset
  const I=panel(svg,{name:'fig2-inset',x0:231,x1:312,y0:126,y1:179,xd:[0,0.03],yd:[-0.12,1.22],
    xMajor:[0,0.02],xMinor:range(0,0.03,0.005),yMajor:[0,1],yMinor:range(0,1.2,0.2),xLab:['0','0.02'],xLabY:190,yLab:null,fs:10});
  const il=L(I.g,I.sx(0),I.sy(0.04),I.sx(0.03),I.sy(0.78),BLK,1.8,'4,2');
  
  
  series(I,fig2InsetX,fig2InsetC,{name:'inset-c-points',type:'sqF',color:RED,size:4.5});
  T(I.g,315,I.sy(0)+3,'0',9,'start','inset-y-tick');
  T(I.g,315,I.sy(1)+3,'1',9,'start','inset-y-tick');
  T(I.g,314,132,'×10<tspan baseline-shift="super" font-size="6">2</tspan>',8,'start','inset-scale');
  T(I.g,324,158,'C',9,'start','inset-y-title');
  T(I.g,272,199,'⟨ Mult ⟩<tspan baseline-shift="super" font-size="6">-1</tspan>',8,'middle','inset-x-title');
  const y2=T(svg,0,0,'v<tspan baseline-shift="sub" font-size="14">1</tspan><tspan baseline-shift="super" font-size="14" dx="-6">even</tspan>',22,'middle','fig2-y-axis-title');
  y2.setAttribute('transform','translate(151,178) rotate(-90)');
  T(svg,490,304,'p<tspan baseline-shift="sub" font-size="13">T</tspan> (GeV/c)',20,'middle','fig2-x-axis-title');
})();

// ======================= FIGURE 3 =======================
(function(){
  const svg=document.getElementById('svg3');
  const edges=[203,393,586,780];
  const v2=[fig3AV2,fig3BV2,fig3CV2],v3=[fig3AV3,fig3BV3,fig3CV3],v4=[fig3AV4,fig3BV4,fig3CV4];
  const Ps=[];
  for(let k=0;k<3;k++){
    const P=panel(svg,{name:'fig3-panel-'+'abc'[k],x0:edges[k],x1:edges[k+1],y0:415,y1:569,xd:[-0.19,3.1],yd:[-0.019,0.274],
      xMajor:fig3XTicks,xMinor:range(0,3,0.2),yMajor:fig3YTicks,yMinor:range(0,0.25,0.05),
      xLab:fig3XLabels,xLabY:586,yLab:k===0?fig3YLabels:null,fs:17});
    Ps.push(P);
    zeroLine(P,P.sx(0.25),P.sx(2.85),MAG,'2,2',2.2);
    if(k===0)series(P,fig3Pt,fig3AV5,{name:'series-v5',band:0.3,bandAbs:0.002,bandColor:'#f6b9c3',type:'tdF',color:GRN,size:9});
    series(P,fig3Pt.slice(0,v4[k].length),v4[k],{name:'series-v4',band:0.15,bandAbs:0.002,bandColor:'#5d6e7e',line:'#5d6e7e',type:'trO',color:MAG,size:9});
    series(P,fig3Pt,v3[k],{name:'series-v3',band:0.05,bandAbs:0.0015,bandColor:'#a24fcf',line:'#a24fcf',type:'ciO',color:BLK,size:9});
    series(P,fig3Pt,v2[k],{name:'series-v2',band:0.02,bandAbs:0.002,bandColor:'#6b9ee6',line:'#4a86e0',type:'sqF',color:RED,size:9});
    T(P.g,[224,416,608][k],432,'('+'abc'[k]+')',14,'middle','panel-label');
  }
  T(Ps[0].g,352,433,'Au+Au',14,'middle','fig3-system');
  T(Ps[0].g,350,446,'200 GeV',14,'middle','fig3-energy');
  T(Ps[0].g,356,459,'0-40%',14,'middle','fig3-centrality');
  T(Ps[1].g,488,443,'27 GeV',14,'middle','panel-energy');
  T(Ps[1].g,488,459,'STAR Preliminary',14,'middle','preliminary-label');
  T(Ps[2].g,664,443,'11.5 GeV',14,'middle','panel-energy');
  legendItem(Ps[0].g,232,257,442,'v<tspan baseline-shift="sub" font-size="10">2</tspan>','sqF',RED,8,15);
  legendItem(Ps[0].g,232,257,455,'v<tspan baseline-shift="sub" font-size="10">3</tspan>','ciO',BLK,8,15);
  legendItem(Ps[0].g,232,257,468,'v<tspan baseline-shift="sub" font-size="10">4</tspan>','trO',MAG,8,15);
  legendItem(Ps[0].g,232,257,482,'v<tspan baseline-shift="sub" font-size="10">5</tspan>','tdF',GRN,8,15);
  const y3=T(svg,0,0,'v<tspan baseline-shift="sub" font-size="14">n</tspan>',22,'middle','fig3-y-axis-title');
  y3.setAttribute('transform','translate(151,466) rotate(-90)');
  T(svg,488,610,'p<tspan baseline-shift="sub" font-size="13">T</tspan> (GeV/c)',20,'middle','fig3-x-axis-title');
})();

// ======================= FIGURE 4 =======================
(function(){
  const svg=document.getElementById('svg3');
  const edges=[194,391,586,780];
  const v2=[fig4AV2,fig4BV2,fig4CV2],v3=[fig4AV3,fig4BV3,fig4CV3],v4=[fig4AV4,fig4BV4,fig4CV4];
  const Ps=[];
  for(let k=0;k<3;k++){
    const P=panel(svg,{name:'fig4-panel-'+'abc'[k],x0:edges[k],x1:edges[k+1],y0:850,y1:1004.5,xd:[-4.5,75.4],yd:[-0.0077,0.0747],
      xMajor:fig4XTicks,xMinor:range(0,75,5),yMajor:fig4YTicks,yMinor:range(0,0.07,0.01),
      xLab:fig4XLabels,xLabY:1021,yLab:k===0?fig4YLabels:null,fs:16});
    Ps.push(P);
    zeroLine(P,P.sx(2),P.sx(72),MAG,'2,2',2.2);
    if(k===0)series(P,fig4Cent,fig4AV5,{name:'series-v5',band:0.25,bandAbs:0.0008,bandColor:'#f6b9c3',type:'tdF',color:GRN,size:9});
    series(P,fig4Cent.slice(0,v4[k].length),v4[k],{name:'series-v4',band:0.12,bandAbs:0.0008,bandColor:'#5d6e7e',line:'#5d6e7e',type:'trO',color:MAG,size:9});
    series(P,fig4Cent,v3[k],{name:'series-v3',band:0.05,bandAbs:0.0006,bandColor:'#a24fcf',line:'#a24fcf',type:'ciO',color:BLK,size:9});
    series(P,fig4Cent,v2[k],{name:'series-v2-half',band:0.015,bandAbs:0.0004,bandColor:'#6b9ee6',line:'#4a86e0',type:'sqF',color:RED,size:9});
    T(P.g,[224,419,615][k],869,'('+'abc'[k]+')',14,'middle','panel-label');
  }
  T(Ps[0].g,280,869,'Au+Au',14,'middle','fig4-system');
  T(Ps[0].g,282,882,'200 GeV',14,'middle','fig4-energy');
  T(Ps[1].g,498,872,'27 GeV',14,'middle','panel-energy');
  T(Ps[1].g,507,892,'STAR Preliminary',14,'middle','preliminary-label');
  T(Ps[2].g,699,872,'11.5 GeV',14,'middle','panel-energy');
  legendItem(Ps[0].g,343,364,860,'v<tspan baseline-shift="sub" font-size="10">2</tspan>/2','sqF',RED,8,15);
  legendItem(Ps[0].g,343,364,873,'v<tspan baseline-shift="sub" font-size="10">3</tspan>','ciO',BLK,8,15);
  legendItem(Ps[0].g,343,364,886,'v<tspan baseline-shift="sub" font-size="10">4</tspan>','trO',MAG,8,15);
  legendItem(Ps[0].g,343,364,900,'v<tspan baseline-shift="sub" font-size="10">5</tspan>','tdF',GRN,8,15);
  const y4=T(svg,0,0,'v<tspan baseline-shift="sub" font-size="14">n</tspan>',22,'middle','fig4-y-axis-title');
  y4.setAttribute('transform','translate(151,908) rotate(-90)');
  T(svg,502,1046,'Centrality (%)',19,'middle','fig4-x-axis-title');
})();

// ======================= FIGURE 5 =======================
(function(){
  const svg=document.getElementById('svg4');
  const P=panel(svg,{name:'fig5-panel',x0:336,x1:641,y0:125.5,y1:336,log:true,xd:[4.9,241],yd:[-0.00506,0.042],
    xMajor:fig5XTicks,xMinor:[5,6,7,8,9,20,30,40,50,60,70,80,90,200],yMajor:fig5YTicks,yMinor:range(0,0.04,0.002),
    xLab:fig5XLabels,xLabY:355,yLab:fig5YLabels,fs:16});
  zeroLine(P,337,640,'#e01010','2,1.5',2);
  series(P,fig5Energy,fig5V4,{name:'series-v4',band:0.1,bandAbs:0.0003,bandColor:'#5d6e7e',type:'trO',color:MAG,size:7});
  series(P,fig5Energy,fig5V3,{name:'series-v3',band:0.02,bandAbs:0.0002,bandColor:'#a24fcf',type:'ciO',color:BLK,size:7});
  series(P,fig5Energy,fig5V2half,{name:'series-v2-half',band:0.025,bandAbs:0.0002,bandColor:'#5d93e0',type:'sqO',color:RED,size:7});
  T(P.g,342,145,'(a)',14,'start','panel-label');
  T(P.g,480,148,'Au+Au',15,'middle','fig5-system');
  T(P.g,480,166,'0-40%',15,'middle','fig5-centrality');
  T(P.g,487,183,'STAR Preliminary',13,'middle','preliminary-label');
  legendItem(P.g,590,614,142,'v<tspan baseline-shift="sub" font-size="10">2</tspan>/2','sqO',RED,7,15);
  legendItem(P.g,590,614,159,'v<tspan baseline-shift="sub" font-size="10">3</tspan>','ciO',BLK,7,15);
  legendItem(P.g,590,614,177,'v<tspan baseline-shift="sub" font-size="10">4</tspan>','trO',MAG,7,15);
  T(svg,275,205,'v<tspan baseline-shift="sub" font-size="13">n</tspan>',19,'middle','fig5-y-axis-title');
  T(svg,489,375,'√s<tspan baseline-shift="sub" font-size="12">NN</tspan> (GeV)',18,'middle','fig5-x-axis-title');
})();

// ======================= LINE JUSTIFICATION =======================
function justify(){
  document.querySelectorAll('.l').forEach(function(d){
    if(d.classList.contains('last'))return;
    const cs=getComputedStyle(d);
    const W=d.clientWidth-parseFloat(cs.paddingLeft);
    const sp=document.createElement('span');
    while(d.firstChild)sp.appendChild(d.firstChild);
    d.appendChild(sp);
    const w=sp.getBoundingClientRect().width;
    const n=(sp.textContent.match(/ /g)||[]).length;
    if(n>0)d.style.wordSpacing=((W-w)/n)+'px';
  });
}
justify();
</script>
</body></html>
